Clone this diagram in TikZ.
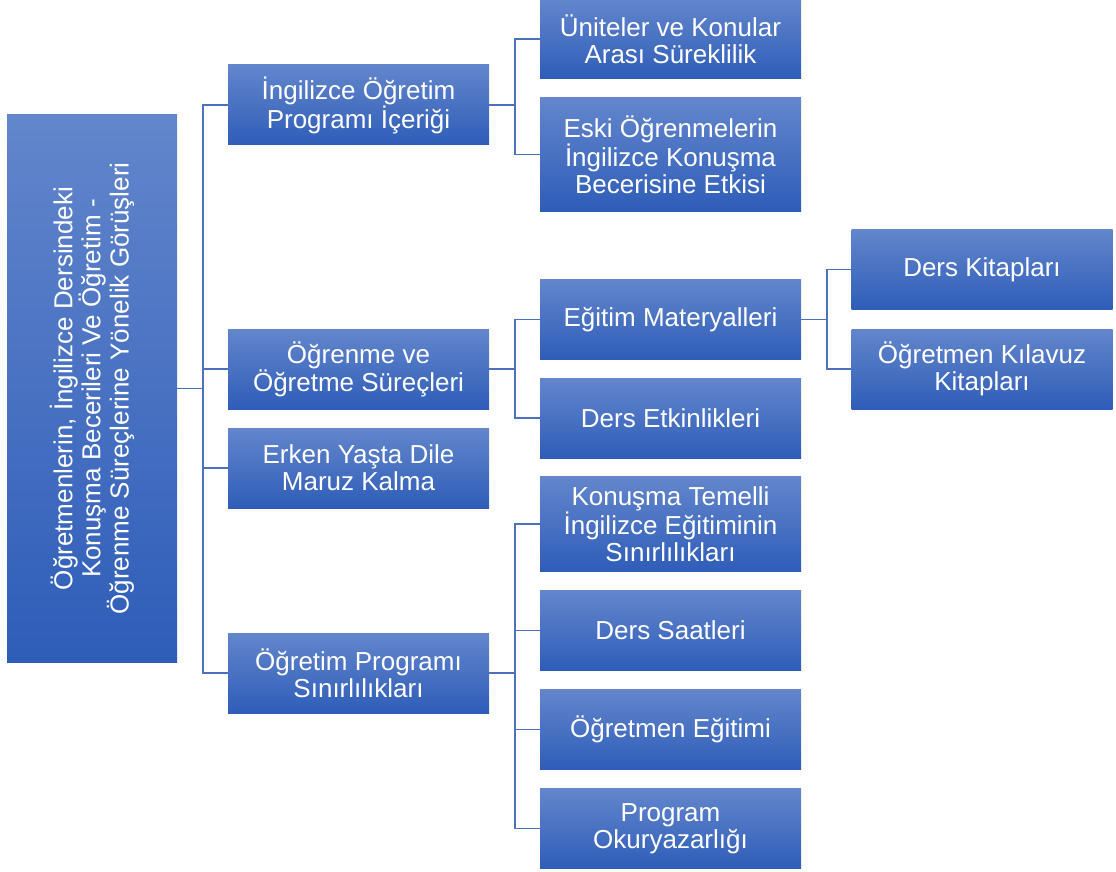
\documentclass[tikz,border=0pt]{standalone}
\usepackage{fontspec}
\setmainfont{Liberation Sans}
\definecolor{boxtop}{RGB}{99,134,204}
\definecolor{boxbot}{RGB}{46,93,184}
\definecolor{linkblue}{RGB}{76,114,190}

\begin{document}
\begin{tikzpicture}[
    x=1pt, y=-1pt, % pixel-like coordinates, y going down
    box/.style={top color=boxtop, bottom color=boxbot, text=white,
      minimum width=261pt, minimum height=80pt, inner sep=0pt, outer sep=0pt,
      align=center, font=\fontsize{26}{27}\selectfont},
    rootbox/.style={box, rotate=90, minimum width=547pt, minimum height=170pt},
    link/.style={draw=linkblue, line width=1.9pt}
]
  \useasboundingbox (0,0) rectangle (1116,872);

  % Root (rotated, so its south side faces right)
  \node[rootbox] (root) at (92,388.5) {Öğretmenlerin, İngilizce Dersindeki\\Konuşma Becerileri Ve Öğretim -\\Öğrenme Süreçlerine Yönelik Görüşleri};

  % First level
  \node[box] (icerik) at (358.5,105) {İngilizce Öğretim\\Programı İçeriği};
  \node[box] (surec) at (358.5,369) {Öğrenme ve\\Öğretme Süreçleri};
  \node[box] (erken) at (358.5,468) {Erken Yaşta Dile\\Maruz Kalma};
  \node[box] (sinir) at (358.5,673) {Öğretim Programı\\Sınırlılıkları};

  % Second level
  \node[box, minimum height=79pt] (unite) at (670.5,39) {Üniteler ve Konular\\Arası Süreklilik};
  \node[box, minimum height=113pt] (eski) at (670.5,154.5) {Eski Öğrenmelerin\\İngilizce Konuşma\\Becerisine Etkisi};
  \node[box] (materyal) at (670.5,319.5) {Eğitim Materyalleri};
  \node[box] (etkinlik) at (670.5,418) {Ders Etkinlikleri};
  \node[box, minimum height=95pt] (konusma) at (670.5,524) {Konuşma Temelli\\İngilizce Eğitiminin\\Sınırlılıkları};
  \node[box] (saat) at (670.5,630.5) {Ders Saatleri};
  \node[box] (egitim) at (670.5,729.5) {Öğretmen Eğitimi};
  \node[box] (okur) at (670.5,828.5) {Program\\Okuryazarlığı};

  % Third level
  \node[box] (kitap) at (982,269.5) {Ders Kitapları};
  \node[box] (kilavuz) at (982,369) {Öğretmen Kılavuz\\Kitapları};

  % Connectors
  \foreach \kid in {icerik,surec,erken,sinir}
    \draw[link] (root.south) -- ++(26,0) |- (\kid.west);
  \foreach \kid in {unite,eski}
    \draw[link] (icerik.east) -- ++(26,0) |- (\kid.west);
  \foreach \kid in {materyal,etkinlik}
    \draw[link] (surec.east) -- ++(26,0) |- (\kid.west);
  \foreach \kid in {konusma,saat,egitim,okur}
    \draw[link] (sinir.east) -- ++(26,0) |- (\kid.west);
  \foreach \kid in {kitap,kilavuz}
    \draw[link] (materyal.east) -- ++(26,0) |- (\kid.west);
\end{tikzpicture}
\end{document}
